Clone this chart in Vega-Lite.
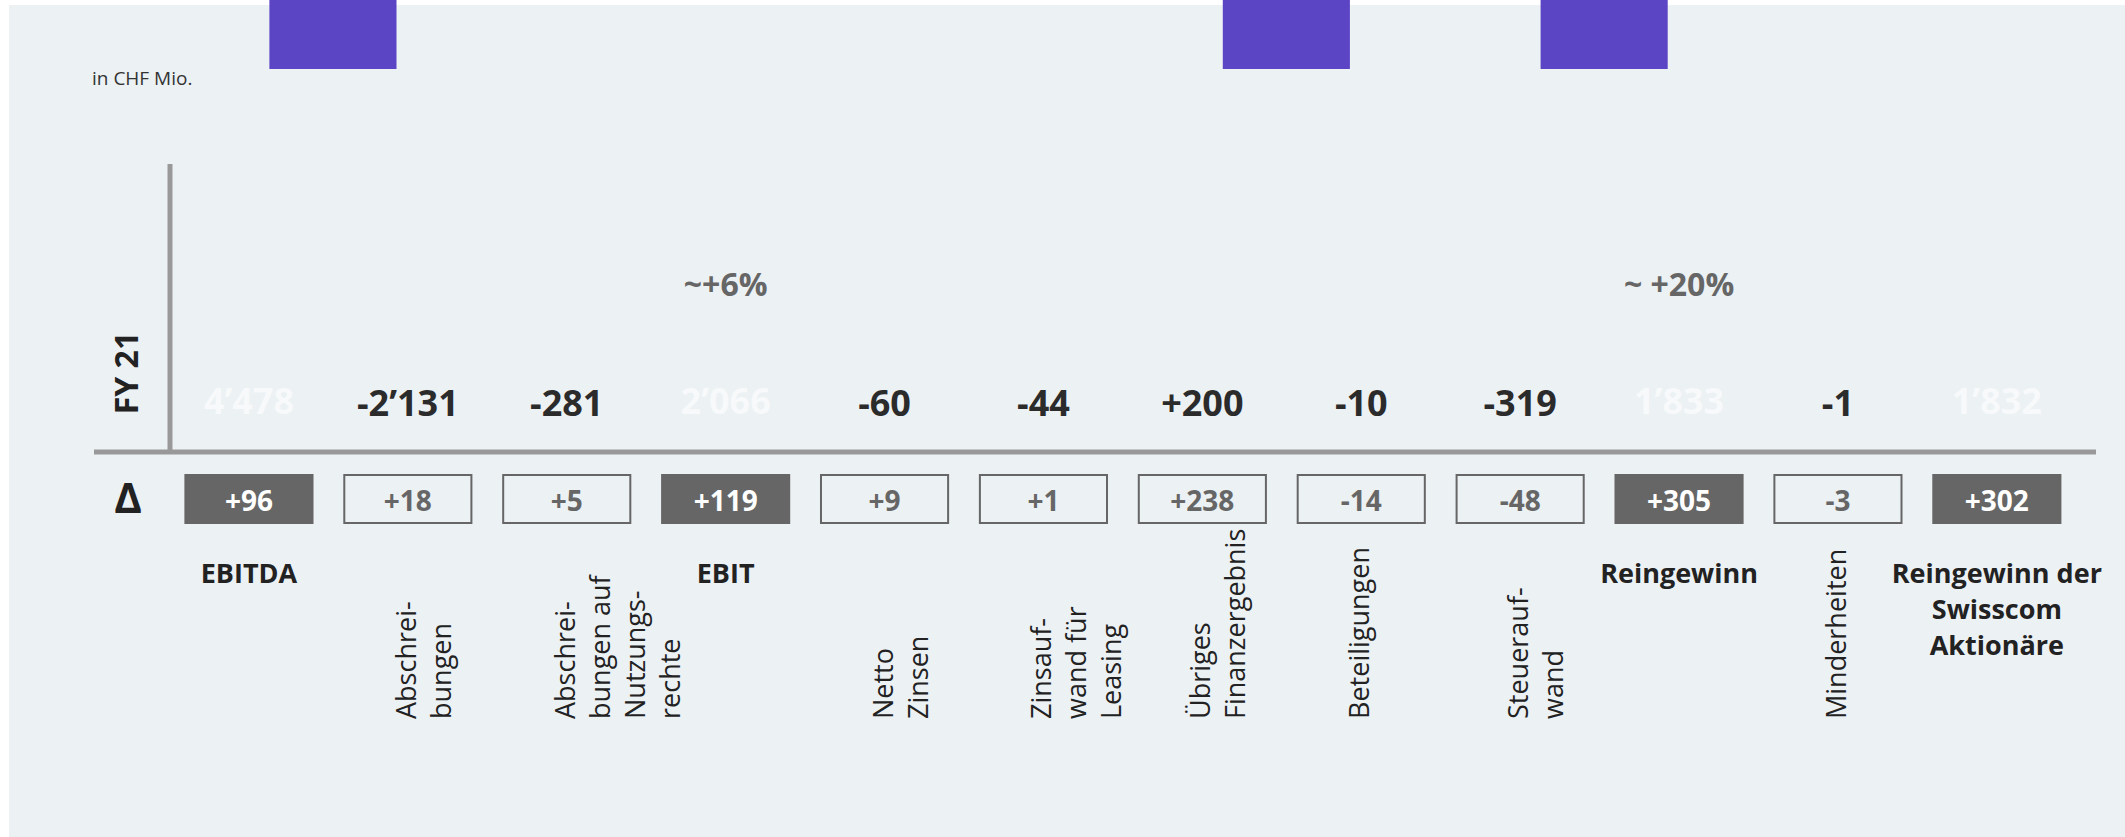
{
  "$schema": "https://vega.github.io/schema/vega-lite/v6.json",
  "width": 2125,
  "height": 837,
  "autosize": {"type": "fit", "contains": "padding"},
  "padding": 0,
  "background": "#ffffff",
  "config": {
    "view": {"stroke": null},
    "font": "Open Sans",
    "locale": {"number": {"decimal": ".", "thousands": "’", "grouping": [3], "currency": ["", ""], "minus": "-"}}
  },
  "datasets": {
    "rows": [
      {"cat": "EBITDA", "label": "EBITDA", "kind": "total", "fy21": 4478, "delta": 96},
      {"cat": "Abschreibungen", "label": "Abschrei-\nbungen", "kind": "step", "fy21": -2131, "delta": 18},
      {"cat": "Abschreibungen auf Nutzungsrechte", "label": "Abschrei-\nbungen auf\nNutzungs-\nrechte", "kind": "step", "fy21": -281, "delta": 5},
      {"cat": "EBIT", "label": "EBIT", "kind": "total", "fy21": 2066, "delta": 119},
      {"cat": "Netto Zinsen", "label": "Netto\nZinsen", "kind": "step", "fy21": -60, "delta": 9},
      {"cat": "Zinsaufwand für Leasing", "label": "Zinsauf-\nwand für\nLeasing", "kind": "step", "fy21": -44, "delta": 1},
      {"cat": "Übriges Finanzergebnis", "label": "Übriges\nFinanzergebnis", "kind": "step", "fy21": 200, "delta": 238},
      {"cat": "Beteiligungen", "label": "Beteiligungen", "kind": "step", "fy21": -10, "delta": -14},
      {"cat": "Steueraufwand", "label": "Steuerauf-\nwand", "kind": "step", "fy21": -319, "delta": -48},
      {"cat": "Reingewinn", "label": "Reingewinn", "kind": "total", "fy21": 1833, "delta": 305},
      {"cat": "Minderheiten", "label": "Minderheiten", "kind": "step", "fy21": -1, "delta": -3},
      {"cat": "Reingewinn der Swisscom Aktionäre", "label": "Reingewinn der\nSwisscom\nAktionäre", "kind": "total", "fy21": 1832, "delta": 302}
    ],
    "growth": [
      {"cat": "EBIT", "text": "~+6%"},
      {"cat": "Reingewinn", "text": "~ +20%"}
    ],
    "marker": [
      {"cat": "EBITDA"},
      {"cat": "Übriges Finanzergebnis"},
      {"cat": "Steueraufwand"}
    ]
  },
  "layer": [
    {
      "data": {"values": [{}]},
      "mark": {"type": "rect", "fill": "#ECF1F4"},
      "encoding": {"x": {"value": 9}, "x2": {"value": 2125}, "y": {"value": 5}, "y2": {"value": 837}}
    },
    {
      "data": {"name": "marker"},
      "mark": {"type": "bar", "fill": "#5B45C5", "xOffset": 84},
      "encoding": {
        "x": {"field": "cat", "type": "nominal", "axis": null, "scale": {"domain": ["EBITDA", "Abschreibungen", "Abschreibungen auf Nutzungsrechte", "EBIT", "Netto Zinsen", "Zinsaufwand für Leasing", "Übriges Finanzergebnis", "Beteiligungen", "Steueraufwand", "Reingewinn", "Minderheiten", "Reingewinn der Swisscom Aktionäre"], "range": [169.5, 2076.3], "paddingInner": 0.2, "paddingOuter": 0.1}},
        "y": {"value": 0},
        "y2": {"value": 69}
      }
    },
    {
      "data": {"values": [{}]},
      "mark": {"type": "rule", "stroke": "#999999", "strokeWidth": 5},
      "encoding": {"x": {"value": 170}, "y": {"value": 164}, "y2": {"value": 452}}
    },
    {
      "data": {"values": [{}]},
      "mark": {"type": "rule", "stroke": "#999999", "strokeWidth": 5},
      "encoding": {"x": {"value": 94}, "x2": {"value": 2096}, "y": {"value": 452}}
    },
    {
      "data": {"values": [{"t": "in CHF Mio."}]},
      "mark": {"type": "text", "align": "left", "baseline": "middle", "fontSize": 19, "color": "#333333"},
      "encoding": {"x": {"value": 92}, "y": {"value": 79}, "text": {"field": "t"}}
    },
    {
      "data": {"values": [{"t": "FY 21"}]},
      "mark": {"type": "text", "align": "center", "baseline": "middle", "angle": 270, "fontSize": 32, "fontWeight": "bold", "color": "#222222"},
      "encoding": {"x": {"value": 128}, "y": {"value": 373}, "text": {"field": "t"}}
    },
    {
      "data": {"values": [{"t": "Δ"}]},
      "mark": {"type": "text", "align": "center", "baseline": "middle", "fontSize": 42, "fontWeight": "bold", "color": "#222222"},
      "encoding": {"x": {"value": 128}, "y": {"value": 500}, "text": {"field": "t"}}
    },
    {
      "data": {"name": "growth"},
      "mark": {"type": "text", "align": "center", "baseline": "middle", "fontSize": 32, "fontWeight": "bold", "color": "#666666"},
      "encoding": {
        "x": {"field": "cat", "type": "nominal", "axis": null, "scale": {"domain": ["EBITDA", "Abschreibungen", "Abschreibungen auf Nutzungsrechte", "EBIT", "Netto Zinsen", "Zinsaufwand für Leasing", "Übriges Finanzergebnis", "Beteiligungen", "Steueraufwand", "Reingewinn", "Minderheiten", "Reingewinn der Swisscom Aktionäre"], "range": [169.5, 2076.3], "paddingInner": 0.2, "paddingOuter": 0.1}},
        "y": {"value": 286},
        "text": {"field": "text"}
      }
    },
    {
      "data": {"name": "rows"},
      "transform": [{"filter": "datum.kind === 'step'"}],
      "mark": {"type": "text", "align": "center", "baseline": "middle", "fontSize": 36, "fontWeight": "bold", "color": "#2B2B2B"},
      "encoding": {
        "x": {"field": "cat", "type": "nominal", "axis": null, "scale": {"domain": ["EBITDA", "Abschreibungen", "Abschreibungen auf Nutzungsrechte", "EBIT", "Netto Zinsen", "Zinsaufwand für Leasing", "Übriges Finanzergebnis", "Beteiligungen", "Steueraufwand", "Reingewinn", "Minderheiten", "Reingewinn der Swisscom Aktionäre"], "range": [169.5, 2076.3], "paddingInner": 0.2, "paddingOuter": 0.1}},
        "y": {"value": 405},
        "text": {"field": "fy21", "type": "quantitative", "format": "+,d"}
      }
    },
    {
      "data": {"name": "rows"},
      "transform": [{"filter": "datum.kind === 'total'"}],
      "mark": {"type": "text", "align": "center", "baseline": "middle", "fontSize": 36, "fontWeight": "bold", "color": "#F7F9FA"},
      "encoding": {
        "x": {"field": "cat", "type": "nominal", "axis": null, "scale": {"domain": ["EBITDA", "Abschreibungen", "Abschreibungen auf Nutzungsrechte", "EBIT", "Netto Zinsen", "Zinsaufwand für Leasing", "Übriges Finanzergebnis", "Beteiligungen", "Steueraufwand", "Reingewinn", "Minderheiten", "Reingewinn der Swisscom Aktionäre"], "range": [169.5, 2076.3], "paddingInner": 0.2, "paddingOuter": 0.1}},
        "y": {"value": 403},
        "text": {"field": "fy21", "type": "quantitative", "format": ",d"}
      }
    },
    {
      "data": {"name": "rows"},
      "mark": {"type": "bar", "stroke": "#666666", "strokeWidth": 2},
      "encoding": {
        "x": {"field": "cat", "type": "nominal", "axis": null, "scale": {"domain": ["EBITDA", "Abschreibungen", "Abschreibungen auf Nutzungsrechte", "EBIT", "Netto Zinsen", "Zinsaufwand für Leasing", "Übriges Finanzergebnis", "Beteiligungen", "Steueraufwand", "Reingewinn", "Minderheiten", "Reingewinn der Swisscom Aktionäre"], "range": [169.5, 2076.3], "paddingInner": 0.2, "paddingOuter": 0.1}},
        "y": {"value": 475},
        "y2": {"value": 523},
        "fill": {"condition": {"test": "datum.kind === 'total'", "value": "#666666"}, "value": "rgba(0,0,0,0)"}
      }
    },
    {
      "data": {"name": "rows"},
      "mark": {"type": "text", "align": "center", "baseline": "middle", "fontSize": 28, "fontWeight": "bold"},
      "encoding": {
        "x": {"field": "cat", "type": "nominal", "axis": null, "scale": {"domain": ["EBITDA", "Abschreibungen", "Abschreibungen auf Nutzungsrechte", "EBIT", "Netto Zinsen", "Zinsaufwand für Leasing", "Übriges Finanzergebnis", "Beteiligungen", "Steueraufwand", "Reingewinn", "Minderheiten", "Reingewinn der Swisscom Aktionäre"], "range": [169.5, 2076.3], "paddingInner": 0.2, "paddingOuter": 0.1}},
        "y": {"value": 503},
        "text": {"field": "delta", "type": "quantitative", "format": "+,d"},
        "fill": {"condition": {"test": "datum.kind === 'total'", "value": "#FFFFFF"}, "value": "#666666"}
      }
    },
    {
      "data": {"name": "rows"},
      "transform": [{"filter": "datum.kind === 'total'"}],
      "mark": {"type": "text", "align": "center", "baseline": "alphabetic", "fontSize": 27, "fontWeight": "bold", "color": "#222222", "lineBreak": "\n", "lineHeight": 36},
      "encoding": {
        "x": {"field": "cat", "type": "nominal", "axis": null, "scale": {"domain": ["EBITDA", "Abschreibungen", "Abschreibungen auf Nutzungsrechte", "EBIT", "Netto Zinsen", "Zinsaufwand für Leasing", "Übriges Finanzergebnis", "Beteiligungen", "Steueraufwand", "Reingewinn", "Minderheiten", "Reingewinn der Swisscom Aktionäre"], "range": [169.5, 2076.3], "paddingInner": 0.2, "paddingOuter": 0.1}},
        "y": {"value": 583},
        "text": {"field": "label"}
      }
    },
    {
      "data": {"name": "rows"},
      "transform": [{"filter": "datum.kind === 'step'"}],
      "mark": {"type": "text", "align": "left", "baseline": "middle", "angle": 270, "fontSize": 27, "color": "#222222", "lineBreak": "\n", "lineHeight": 35},
      "encoding": {
        "x": {"field": "cat", "type": "nominal", "axis": null, "scale": {"domain": ["EBITDA", "Abschreibungen", "Abschreibungen auf Nutzungsrechte", "EBIT", "Netto Zinsen", "Zinsaufwand für Leasing", "Übriges Finanzergebnis", "Beteiligungen", "Steueraufwand", "Reingewinn", "Minderheiten", "Reingewinn der Swisscom Aktionäre"], "range": [169.5, 2076.3], "paddingInner": 0.2, "paddingOuter": 0.1}},
        "y": {"value": 719},
        "text": {"field": "label"}
      }
    }
  ]
}
